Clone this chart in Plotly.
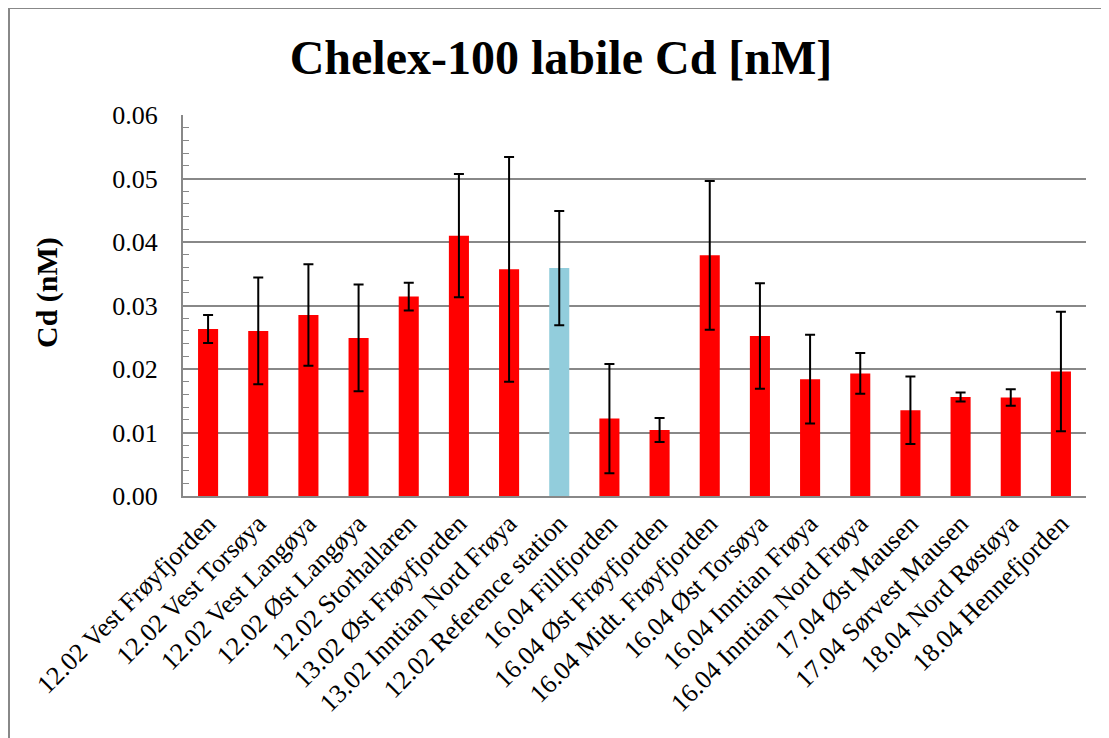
import plotly.graph_objects as go

categories = [
    "12.02 Vest Frøyfjorden", "12.02 Vest Torsøya", "12.02 Vest Langøya",
    "12.02 Øst Langøya", "12.02 Storhallaren", "13.02 Øst Frøyfjorden",
    "13.02 Inntian Nord Frøya", "12.02 Reference station", "16.04 Fillfjorden",
    "16.04 Øst Frøyfjorden", "16.04 Midt. Frøyfjorden", "16.04 Øst Torsøya",
    "16.04 Inntian Frøya", "16.04 Inntian Nord Frøya", "17.04 Øst Mausen",
    "17.04 Sørvest Mausen", "18.04 Nord Røstøya", "18.04 Hennefjorden",
]
values = [0.0263, 0.0260, 0.0285, 0.0249, 0.0314, 0.0410, 0.0357, 0.0359,
          0.0122, 0.0104, 0.0379, 0.0252, 0.0184, 0.0193, 0.0135, 0.0156,
          0.0155, 0.0196]
errors = [0.0022, 0.0084, 0.0080, 0.0084, 0.0022, 0.0097, 0.0177, 0.0090,
          0.0086, 0.0019, 0.0117, 0.0083, 0.0070, 0.0032, 0.0053, 0.0007,
          0.0013, 0.0094]
colors = ["#FF0000"] * len(categories)
colors[7] = "#92CDDC"

font_family = "Liberation Serif, Times New Roman, serif"

fig = go.Figure()
fig.add_trace(go.Bar(
    x=categories, y=values,
    marker=dict(color=colors, line=dict(width=0)),
    width=0.4,
    error_y=dict(type="data", array=errors, visible=True,
                 color="black", thickness=2, width=5),
))

# page body has an 8px margin, so the figure starts at (8, 8)
OFF = 8
W, H = 1109 - OFF, 738 - OFF
ml, mr, mt, mb = 183 - OFF, 1109 - 1086, 115 - OFF, 738 - 496
pw, ph = W - ml - mr, H - mt - mb

def px2x(p):
    return (p - OFF - ml) / pw

def py2y(p):
    return 1 - (p - OFF - mt) / ph

fig.update_layout(
    width=W, height=H,
    margin=dict(l=ml, r=mr, t=mt, b=mb, autoexpand=False),
    paper_bgcolor="white", plot_bgcolor="white",
    font=dict(family=font_family, color="black"),
    showlegend=False,
    title=dict(text="<b>Chelex-100 labile Cd [nM]</b>",
               font=dict(size=48, family=font_family, color="black"),
               x=(561 - OFF) / W, xanchor="center",
               y=1 - (57 - OFF) / H, yanchor="middle"),
    xaxis=dict(
        tickangle=-45, tickfont=dict(size=26, family=font_family),
        showline=True, linecolor="#888888", linewidth=2,
        ticks="", showgrid=False,
    ),
    yaxis=dict(
        range=[0, 0.06], dtick=0.01, tickformat=".2f",
        tickfont=dict(size=26, family=font_family),
        showline=True, linecolor="#888888", linewidth=2,
        showgrid=True, gridcolor="#888888", gridwidth=1.5,
        ticks="inside", ticklen=7, tickcolor="#888888",
        minor=dict(dtick=0.002, ticks="inside", ticklen=6,
                   tickcolor="#888888", showgrid=False),
        ticklabelstandoff=18,
        zeroline=False,
    ),
    annotations=[
        dict(text="<b>Cd (nM)</b>", textangle=-90,
             xref="paper", yref="paper",
             x=px2x(47), y=py2y(293), xanchor="center", yanchor="middle",
             showarrow=False, font=dict(size=30, family=font_family)),
    ],
    shapes=[
        dict(type="line", xref="paper", yref="paper",
             x0=px2x(8), x1=px2x(1109), y0=py2y(8), y1=py2y(8),
             line=dict(color="#888888", width=2)),
        dict(type="line", xref="paper", yref="paper",
             x0=px2x(9), x1=px2x(9), y0=py2y(8), y1=py2y(738),
             line=dict(color="#888888", width=2)),
    ],
)

fig.write_html("out.html")
